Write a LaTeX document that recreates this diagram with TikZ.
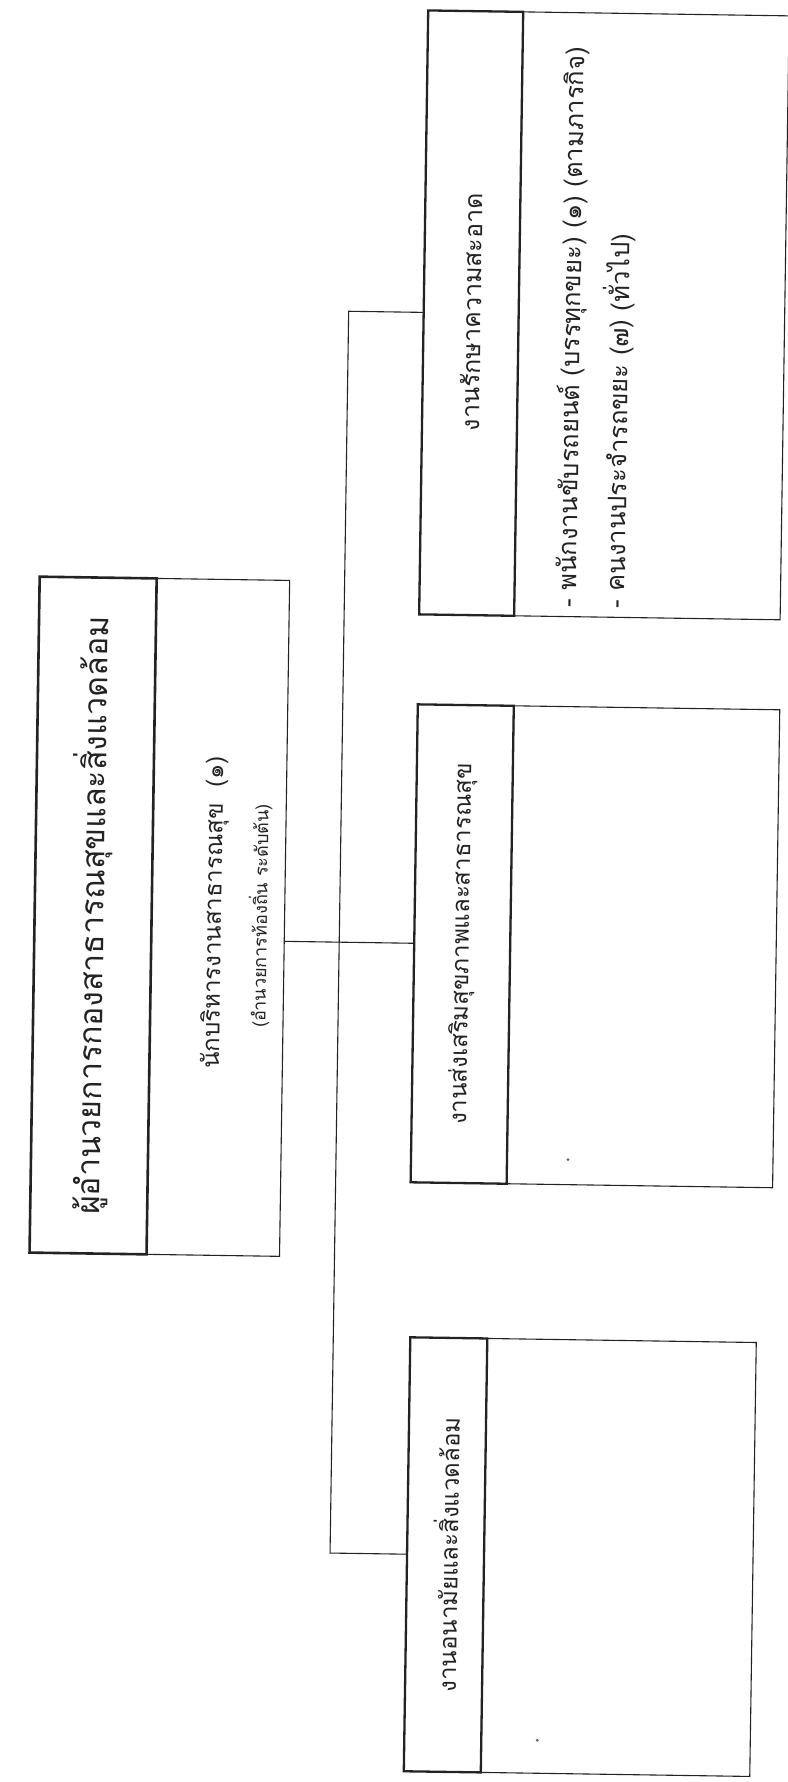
\documentclass[tikz,border=0pt]{standalone}
\usepackage{fontspec}
\newfontfamily\thai[Script=Thai]{Loma}
\definecolor{ink}{RGB}{35,35,35}
\begin{document}
\begin{tikzpicture}[x=1pt,y=-1pt]
\tikzset{
  hdrbox/.style={draw=ink, line width=2.3pt, inner sep=0pt, outer sep=0pt, transform shape},
  bodybox/.style={draw=ink, line width=1.1pt, inner sep=0pt, outer sep=0pt, transform shape},
  vtxt/.style={rotate=90, transform shape, inner sep=0pt, text=ink, font=\thai\fontsize{24}{28}\selectfont},
  listtxt/.style={font=\thai\fontsize{25.5}{30}\selectfont},
  smalltxt/.style={font=\thai\fontsize{18}{22}\selectfont},
  bigtxt/.style={font=\thai\fontsize{32}{36}\selectfont},
  conn/.style={draw=ink, line width=1.1pt},
  speck/.style={circle, fill=ink!70, inner sep=1.1pt, transform shape}
}
\fill[white] (0,0) rectangle (787,1782);
\useasboundingbox (0,0) rectangle (787,1782);
\begin{scope}[rotate around={-0.86:(393,891)}]
  % director
  \node[bodybox, minimum width=133pt, minimum height=676pt] (dirb) at (218.5,920) {};
  \node[hdrbox, line width=2.6pt, minimum width=117pt, minimum height=676pt] (dirh) at (93.5,920) {};
  \node[vtxt, bigtxt] (dirt) at (92,920) {ผู้อำนวยการกองสาธารณสุขและสิ่งแวดล้อม};
  \node[vtxt] (dirl1) at (215,915) {นักบริหารงานสาธารณสุข~~(๑)};
  \node[vtxt, smalltxt] (dirl2) at (260,918) {(อำนวยการท้องถิ่น ระดับต้น)};
  % top box
  \node[bodybox, minimum width=266pt, minimum height=604pt] (t1b) at (643,312) {};
  \node[hdrbox, minimum width=95pt, minimum height=604pt] (t1h) at (462.5,312) {};
  \node[vtxt, font=\thai\fontsize{25}{29}\selectfont] (t1t) at (462.5,311) {งานรักษาความสะอาด};
  \node[vtxt, listtxt, anchor=west] (t1a) at (564,605) {- พนักงานขับรถยนต์ (บรรทุกขยะ) (๑) (ตามภารกิจ)};
  \node[vtxt, listtxt, anchor=west] (t1c) at (610,605) {- คนงานประจำรถขยะ (๗) (ทั่วไป)};
  % middle box
  \node[bodybox, minimum width=266pt, minimum height=478pt] (t2b) at (644,943) {};
  \node[hdrbox, minimum width=96pt, minimum height=478pt] (t2h) at (463,943) {};
  \node[vtxt] (t2t) at (463,943) {งานส่งเสริมสุขภาพและสาธารณสุข};
  \node[speck] (s2) at (572,1157) {};
  % bottom box
  \node[bodybox, minimum width=269pt, minimum height=434pt] (t3b) at (628.5,1554) {};
  \node[hdrbox, minimum width=77pt, minimum height=434pt] (t3h) at (455.5,1554) {};
  \node[vtxt] (t3t) at (455.5,1554) {งานอนามัยและสิ่งแวดล้อม};
  \node[speck] (s3) at (550,1738) {};
  % connectors
  \coordinate (tTop) at (340,312);
  \coordinate (tBot) at (340,1554);
  \coordinate (dMid) at (285,943);
  \draw[conn] (t1h.west) -- (tTop) -- (tBot) -- (t3h.west);
  \draw[conn] (dMid) -- (t2h.west);
\end{scope}
\end{tikzpicture}
\end{document}
